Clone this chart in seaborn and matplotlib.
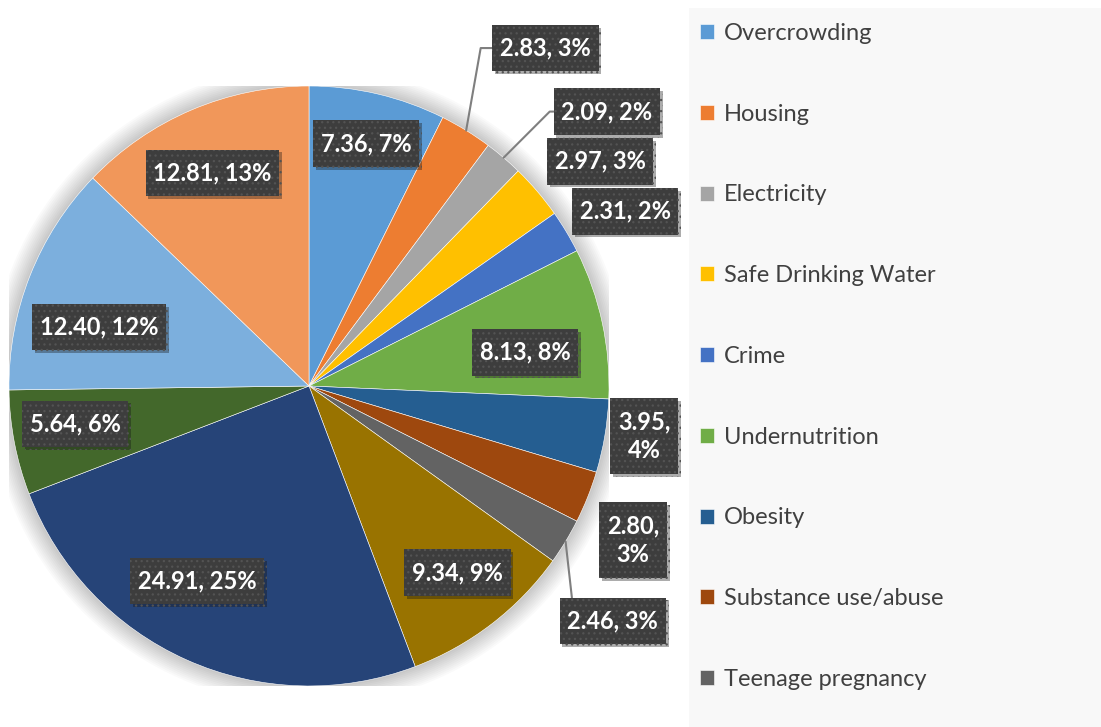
import numpy as np
import matplotlib
matplotlib.use('Agg')
import matplotlib.pyplot as plt
import matplotlib.patheffects as pe
from matplotlib.patches import Rectangle, Circle
from matplotlib.path import Path
import seaborn as sns

# slice values, clockwise from 12 o'clock
values = [7.36, 2.83, 2.09, 2.97, 2.31, 8.13, 3.95, 2.80, 2.46, 9.34, 24.91, 5.64, 12.40, 12.81]
pct_labels = ['7%', '3%', '2%', '3%', '2%', '8%', '4%', '3%', '3%', '9%', '25%', '6%', '12%', '13%']
legend_names = ['Overcrowding', 'Housing', 'Electricity', 'Safe Drinking Water', 'Crime',
                'Undernutrition', 'Obesity', 'Substance use/abuse', 'Teenage pregnancy']
colors = ['#5B9BD5', '#ED7D31', '#A5A5A5', '#FFC000', '#4472C4', '#70AD47', '#255E91',
          '#9E480E', '#636363', '#997300', '#264478', '#43682B', '#7CAFDD', '#F1975A']

# label placement (radius, angle shift from slice middle)
label_r = [0.83, 1.375, 1.35, 1.226, 1.204, 0.729, 1.13, 1.196, 1.28, 0.795, 0.75, 0.79, 0.727, 0.78]
label_shift = [0, -3.4, -6.9, -2.8, -2, -3.3, 1.1, -3.7, -6.5, 0.9, -5.8, -1.7, 5.9, 1.3]
two_line = {6, 7}
leaders = {1: 'angle,angleA=0,angleB=80', 2: 'angle,angleA=0,angleB=45', 8: 'arc3'}
leader_relpos = {1: (0, 0.5), 2: (0, 0.5), 8: (0.064, 1)}


def label_box(x0, y0, width, height, mutation_size):
    # plain rectangle, more padding top/bottom than left/right
    px, py = 0.33 * mutation_size, 0.5 * mutation_size
    x0, y0 = x0 - px, y0 - py
    x1, y1 = x0 + width + 2 * px, y0 + height + 2 * py
    return Path([(x0, y0), (x1, y0), (x1, y1), (x0, y1), (x0, y0)], closed=True)


sns.set_theme(style='white')
plt.rcParams['font.family'] = ['Lato', 'DejaVu Sans']
plt.rcParams['hatch.color'] = '#535353'
plt.rcParams['hatch.linewidth'] = 0.9

W, H = 1101, 727
fig = plt.figure(figsize=(W / 100, H / 100), dpi=100)
fig.patches.append(Rectangle((689 / W, 0), 412 / W, 719 / H, transform=fig.transFigure,
                             fc='#f8f8f8', ec='none', zorder=0))

ax = fig.add_axes([9 / W, 41 / H, 600 / W, 600 / H])
for k in range(12):
    ax.add_patch(Circle((0, 0), 1.0 + 0.006 * k, color='#000000', alpha=0.02, lw=0, zorder=0))

wedges, _ = ax.pie(values, colors=colors, startangle=90, counterclock=False, radius=1,
                   wedgeprops=dict(edgecolor='white', linewidth=0.4))
ax.set_xlim(-1, 1)
ax.set_ylim(-1, 1)
ax.axis('off')

for i, w in enumerate(wedges):
    mid = (w.theta1 + w.theta2) / 2
    ang = np.deg2rad(mid + label_shift[i])
    tx, ty = label_r[i] * np.cos(ang), label_r[i] * np.sin(ang)
    sep = ',\n' if i in two_line else ', '
    txt = f'{values[i]:.2f}{sep}{pct_labels[i]}'
    if i in leaders:
        m = np.deg2rad(mid)
        kw = dict(xy=(np.cos(m), np.sin(m)),
                  arrowprops=dict(arrowstyle='-', color='#7f7f7f', lw=1.5, shrinkA=0, shrinkB=0,
                                  connectionstyle=leaders[i], relpos=leader_relpos[i]))
    else:
        kw = dict(xy=(tx, ty))
    t = ax.annotate(txt, xytext=(tx, ty), ha='center', va='center', color='white',
                    fontsize=17, fontweight='bold', linespacing=1.3, zorder=5,
                    annotation_clip=False,
                    bbox=dict(boxstyle=label_box, fc='#3d3d3d', ec='#535353', lw=0, hatch='...'),
                    **kw)
    t.get_bbox_patch().set_path_effects([pe.SimplePatchShadow(offset=(2, -2), alpha=0.35),
                                         pe.Normal()])

fig.legend(wedges[:len(legend_names)], legend_names, loc='upper left',
           bbox_to_anchor=(700 / W, 1 - 23 / H), frameon=False, fontsize=17,
           handlelength=0.6, handleheight=0.6, handletextpad=0.4, labelspacing=2.53,
           borderpad=0, borderaxespad=0, labelcolor='#404040')

fig.savefig('out.png', dpi=100)
